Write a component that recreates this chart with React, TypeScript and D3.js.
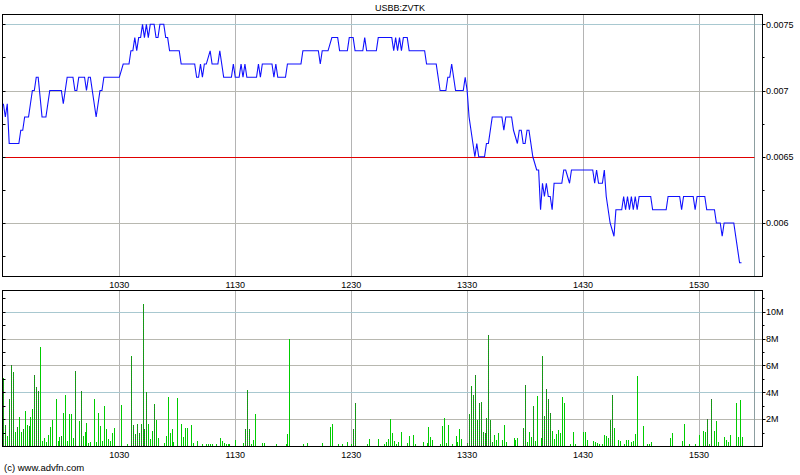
import React from 'react';
import * as d3 from 'd3';

// ---------- data ----------
const chartTitle = 'USBB:ZVTK';
const copyright = '(c) www.advfn.com';
const timeTickMinutes = [60, 120, 180, 240, 300, 360]; // minutes after 09:30
const timeTickLabels = ['1030', '1130', '1230', '1330', '1430', '1530'];
const priceTicks = [0.0075, 0.007, 0.0065, 0.006];
const priceTickLabels = ['0.0075', '0.007', '0.0065', '0.006'];
const priceMinorTicks = [0.00725, 0.00675, 0.00625, 0.00575];
const prevClose = 0.0065;
const volTicks = [2e6, 4e6, 6e6, 8e6, 10e6];
const volTickLabels = ['2M', '4M', '6M', '8M', '10M'];
const volMinorTicks = [1e6, 3e6, 5e6, 7e6, 9e6, 11e6];
const sessionEndMinute = 388.5;

// price: minute after 09:30 and trade price
const priceMinute = [
  0, 1, 2, 3, 8, 9, 10, 11, 13, 14, 15, 16, 17, 18, 20, 22, 24, 30, 31, 33, 36, 37, 38, 39, 42, 43, 44, 45, 48, 50,
  51, 52, 60, 62, 65, 66, 67, 68, 69, 70, 71, 72, 73, 74, 75, 76, 78, 79, 80, 81, 83, 84, 85, 86, 91, 92, 99, 100, 101, 102,
  103, 104, 105, 107, 108, 111, 112, 113, 114, 118, 119, 120, 122, 123, 124, 125, 126, 131, 132, 133, 134, 139, 140, 141, 142, 146, 147, 154, 155, 163,
  164, 165, 168, 170, 173, 174, 178, 179, 181, 182, 186, 187, 188, 193, 194, 201, 202, 203, 204, 205, 206, 207, 209, 210, 218, 219, 224, 225, 226, 229,
  230, 231, 232, 234, 238, 239, 240, 241, 242, 243, 244, 245, 246, 249, 250, 251, 252, 253, 258, 259, 260, 263, 264, 266, 267, 268, 269, 270, 271, 272,
  273, 274, 276, 277, 278, 279, 280, 281, 282, 283, 284, 285, 289, 290, 291, 293, 294, 305, 306, 307, 308, 310, 311, 312, 313, 314, 316, 317, 320, 321,
  322, 323, 324, 325, 326, 327, 328, 329, 335, 336, 343, 344, 350, 351, 352, 357, 358, 359, 363, 364, 368, 369, 371, 372, 373, 378, 381, 382,
];
const priceValue = [
  0.0069, 0.0068, 0.0069, 0.0066, 0.0066, 0.0067, 0.0067, 0.0068, 0.0068, 0.0069, 0.007, 0.007, 0.0071, 0.0071, 0.0068, 0.0068, 0.007, 0.007, 0.0069, 0.0071,
  0.0071, 0.007, 0.007, 0.0071, 0.0071, 0.007, 0.0071, 0.0071, 0.0068, 0.007,
  0.007, 0.0071, 0.0071, 0.0072, 0.0072, 0.0073, 0.0073, 0.0074, 0.0073, 0.0074, 0.0074, 0.0075, 0.0074, 0.0075, 0.0074, 0.0075, 0.0075, 0.0074, 0.0074, 0.0075,
  0.0075, 0.0074, 0.0074, 0.0073, 0.0073, 0.0072, 0.0072, 0.0071, 0.0071, 0.0072,
  0.0071, 0.0072, 0.0072, 0.0073, 0.0072, 0.0072, 0.0073, 0.0072, 0.0071, 0.0071, 0.0072, 0.0071, 0.0071, 0.0072, 0.0071, 0.0072, 0.0071, 0.0071, 0.0072, 0.0071,
  0.0072, 0.0072, 0.0071, 0.0072, 0.0071, 0.0071, 0.0072, 0.0072, 0.0073, 0.0073,
  0.0072, 0.0073, 0.0073, 0.0074, 0.0074, 0.0073, 0.0073, 0.0074, 0.0074, 0.0073, 0.0073, 0.0074, 0.0073, 0.0073, 0.0074, 0.0074, 0.0073, 0.0074, 0.0073, 0.0074,
  0.0073, 0.0074, 0.0074, 0.0073, 0.0073, 0.0072, 0.0072, 0.0071, 0.007, 0.007,
  0.0071, 0.0071, 0.0072, 0.007, 0.007, 0.0071, 0.007, 0.0068, 0.0067, 0.0066, 0.0065, 0.0066, 0.0065, 0.0065, 0.0066, 0.0066, 0.0067, 0.0068, 0.0068, 0.0067,
  0.0068, 0.0068, 0.0067, 0.0066, 0.0067, 0.0067, 0.0066, 0.0066, 0.0067, 0.0067,
  0.0066, 0.0065, 0.0064, 0.0064, 0.0061, 0.0063, 0.0062, 0.0063, 0.0062, 0.0062, 0.0061, 0.0063, 0.0063, 0.0064, 0.0064, 0.0063, 0.0064, 0.0064, 0.0063, 0.0064,
  0.0063, 0.0063, 0.0064, 0.0062, 0.0061, 0.006, 0.0059, 0.0061, 0.0061, 0.0062,
  0.0061, 0.0062, 0.0061, 0.0062, 0.0061, 0.0062, 0.0061, 0.0062, 0.0062, 0.0061, 0.0061, 0.0062, 0.0062, 0.0061, 0.0062, 0.0062, 0.0061, 0.0062, 0.0062, 0.0061,
  0.0061, 0.006, 0.006, 0.0059, 0.006, 0.006, 0.0057, 0.0057,
];

// volume: minute after 09:30, shares, and bar style (g = green, d = dotted/neutral)
const volMinute = [
  0, 1, 2, 3, 4, 5, 6, 7, 8, 9, 10, 11, 12, 13, 14, 15, 16, 17, 18, 19, 20, 21, 22, 23, 24, 25, 27, 28, 29, 30,
  31, 32, 33, 34, 35, 36, 37, 39, 40, 41, 42, 43, 44, 45, 47, 48, 49, 50, 51, 52, 53, 54, 55, 56, 57, 61, 64, 66, 67, 68,
  69, 70, 71, 72, 73, 74, 75, 76, 77, 78, 79, 80, 83, 84, 85, 86, 87, 88, 90, 92, 93, 94, 95, 97, 98, 100, 103, 105, 106, 107,
  108, 110, 112, 113, 114, 115, 116, 117, 120, 124, 125, 126, 127, 128, 129, 130, 134, 135, 141, 146, 147, 148, 155, 157, 165, 169, 170, 173, 175, 178,
  180, 181, 182, 188, 189, 194, 197, 198, 199, 200, 201, 202, 203, 204, 206, 209, 210, 212, 213, 217, 219, 220, 221, 222, 226, 227, 228, 229, 230, 232,
  234, 235, 236, 237, 240, 241, 242, 243, 244, 245, 246, 247, 248, 249, 250, 251, 252, 253, 254, 255, 256, 258, 259, 260, 264, 265, 266, 269, 270, 271,
  272, 273, 274, 275, 276, 278, 279, 280, 281, 282, 283, 284, 285, 286, 287, 288, 289, 290, 293, 295, 296, 300, 301, 302, 305, 306, 307, 308, 310, 311,
  312, 313, 314, 315, 316, 318, 319, 321, 322, 323, 325, 326, 327, 328, 331, 333, 334, 335, 345, 346, 351, 352, 355, 358, 360, 362, 363, 364, 365, 366,
  368, 369, 370, 373, 374, 375, 376, 379, 380, 381, 382,
];
const volShares = [
  5100000, 1560000, 740000, 3500000, 6000000, 5500000, 1070000, 1400000, 2160000, 1070000, 1270000, 2630000, 1560000, 1500000, 2160000, 2750000, 5300000, 4400000, 4100000, 7370000,
  400000, 620000, 320000, 820000, 1410000, 1940000, 3500000, 400000, 700000, 770000,
  2460000, 3800000, 400000, 2380000, 2380000, 620000, 5580000, 1860000, 4100000, 740000, 1070000, 1710000, 220000, 300000, 3500000, 320000, 2460000, 1500000, 400000, 2980000,
  1270000, 520000, 400000, 970000, 1340000, 3050000, 150000, 6700000, 1560000, 900000,
  1640000, 1000000, 1640000, 10570000, 1270000, 4000000, 1640000, 520000, 1100000, 3100000, 1940000, 620000, 220000, 740000, 3650000, 970000, 1270000, 300000, 3570000, 1640000,
  670000, 1340000, 1340000, 1560000, 220000, 370000, 170000, 120000, 120000, 120000,
  120000, 120000, 600000, 400000, 220000, 120000, 120000, 120000, 450000, 200000, 1270000, 4170000, 1270000, 170000, 450000, 2400000, 220000, 220000, 120000, 120000,
  900000, 7970000, 120000, 220000, 200000, 1410000, 1660000, 120000, 120000, 300000,
  170000, 1270000, 3200000, 120000, 520000, 520000, 120000, 300000, 520000, 2000000, 970000, 400000, 170000, 300000, 1040000, 250000, 740000, 820000, 120000, 300000,
  220000, 1410000, 670000, 450000, 150000, 1490000, 2080000, 220000, 1560000, 150000,
  740000, 300000, 1270000, 520000, 220000, 2380000, 4470000, 3800000, 5290000, 1940000, 3200000, 3280000, 1040000, 970000, 2080000, 8260000, 1940000, 300000, 820000, 450000,
  970000, 450000, 1560000, 300000, 600000, 450000, 600000, 1340000, 4540000, 300000,
  1040000, 670000, 2980000, 370000, 3720000, 600000, 6700000, 2230000, 4240000, 3500000, 2460000, 1120000, 520000, 900000, 1190000, 970000, 3650000, 3200000, 150000, 1040000,
  150000, 1040000, 1040000, 450000, 370000, 300000, 220000, 150000, 150000, 820000,
  740000, 600000, 1940000, 3800000, 1340000, 450000, 370000, 150000, 450000, 450000, 320000, 370000, 900000, 5240000, 1490000, 120000, 120000, 300000, 600000, 970000,
  370000, 1640000, 120000, 120000, 820000, 1120000, 1040000, 2000000, 120000, 3500000,
  1120000, 1860000, 300000, 670000, 450000, 300000, 820000, 3200000, 670000, 3420000, 670000,
];
const volStyle = [
  'd', 'd', 'g', 'd', 'd', 'd', 'g', 'd', 'g', 'g', 'd', 'g', 'g', 'd', 'g', 'g', 'd', 'd', 'd', 'g', 'g', 'g', 'g', 'g', 'g', 'g', 'g', 'g', 'g', 'd',
  'g', 'g', 'g', 'g', 'g', 'g', 'd', 'g', 'd', 'g', 'g', 'g', 'g', 'g', 'g', 'g', 'g', 'g', 'g', 'g', 'g', 'g', 'g', 'g', 'g', 'g', 'g', 'd', 'd', 'd',
  'd', 'd', 'd', 'd', 'd', 'd', 'g', 'g', 'g', 'd', 'g', 'g', 'g', 'g', 'g', 'g', 'g', 'g', 'g', 'g', 'g', 'g', 'g', 'g', 'g', 'g', 'g', 'g', 'g', 'g',
  'g', 'g', 'g', 'g', 'g', 'g', 'g', 'g', 'g', 'g', 'd', 'd', 'd', 'g', 'g', 'g', 'g', 'g', 'g', 'g', 'g', 'g', 'g', 'g', 'g', 'g', 'g', 'g', 'g', 'g',
  'g', 'd', 'd', 'g', 'g', 'g', 'g', 'g', 'g', 'g', 'g', 'g', 'g', 'g', 'g', 'g', 'g', 'g', 'g', 'g', 'g', 'g', 'g', 'g', 'g', 'g', 'g', 'g', 'g', 'g',
  'g', 'g', 'g', 'g', 'd', 'd', 'd', 'd', 'd', 'd', 'd', 'd', 'd', 'd', 'd', 'd', 'd', 'd', 'g', 'g', 'g', 'g', 'g', 'g', 'g', 'g', 'g', 'd', 'd', 'g',
  'g', 'g', 'd', 'g', 'g', 'g', 'd', 'd', 'd', 'd', 'd', 'g', 'g', 'g', 'g', 'g', 'g', 'g', 'g', 'g', 'g', 'g', 'g', 'g', 'g', 'g', 'g', 'g', 'g', 'g',
  'g', 'g', 'd', 'd', 'g', 'g', 'g', 'g', 'g', 'g', 'g', 'g', 'g', 'g', 'g', 'g', 'g', 'g', 'g', 'g', 'g', 'g', 'g', 'g', 'g', 'g', 'g', 'd', 'g', 'd',
  'g', 'g', 'g', 'g', 'g', 'g', 'g', 'g', 'g', 'g', 'g',
];

// ---------- layout ----------
const W = 800;
const H = 475;
const frameL = 2.5;
const frameR = 762.5;
const pTop = 14.5;
const pBot = 276.5;
const vTop = 290.5;
const vBot = 446.5;
const FONT = 'Liberation Sans, Arial, sans-serif';

const x = d3.scaleLinear().domain([0, 360]).range([3.4, 699]);
const yP = d3.scaleLinear().domain([0.006, 0.0075]).range([223, 24.3]);
const yV = d3.scaleLinear().domain([0, 10e6]).range([446, 311.7]);

const snap = (v: number) => Math.round(v) + 0.5;

export default function App() {
  const pts: [number, number][] = priceMinute.map((m, i) => [x(m), yP(priceValue[i])]);
  const linePath = d3.line()(pts) || '';
  const endX = snap(x(sessionEndMinute));

  const gridColor = (blue: boolean) => (blue ? '#a8c8d0' : '#b8b8b0');

  return (
    <svg width={W} height={H} style={{ position: 'absolute', left: 0, top: 0, background: '#fff' }} fontFamily={FONT}>
      <defs>
        <clipPath id="pclip">
          <rect x={frameL} y={pTop} width={frameR - frameL} height={pBot - pTop} />
        </clipPath>
        <pattern id="dotbar" width={1} height={2} patternUnits="userSpaceOnUse">
          <rect x={0} y={0} width={1} height={1} fill="#00c000" />
          <rect x={0} y={1} width={1} height={1} fill="#336633" />
        </pattern>
      </defs>
      <rect x={0} y={0} width={W} height={H} fill="#fff" />
      <text x={400} y={11} fontSize={9} textAnchor="middle" fill="#000">{chartTitle}</text>

      {/* ---- price panel ---- */}
      {timeTickMinutes.map((m) => (
        <line key={'pv' + m} x1={snap(x(m))} x2={snap(x(m))} y1={pTop} y2={pBot} stroke="#b4b4b4" strokeWidth={1} />
      ))}
      {priceTicks.map((p, i) =>
        p === prevClose ? null : (
          <line key={'ph' + i} x1={frameL} x2={frameR} y1={snap(yP(p))} y2={snap(yP(p))} stroke={gridColor(i === 0)} strokeWidth={1} />
        ),
      )}
      <line x1={endX} x2={endX} y1={pTop} y2={pBot} stroke="#8c9ea0" strokeWidth={1} />
      <line x1={frameL} x2={endX} y1={snap(yP(prevClose))} y2={snap(yP(prevClose))} stroke="#e00000" strokeWidth={1} />
      <path d={linePath} fill="none" stroke="#1010ff" strokeWidth={1.1} clipPath="url(#pclip)" />
      <rect x={frameL} y={pTop} width={frameR - frameL} height={pBot - pTop} fill="none" stroke="#000" strokeWidth={1} />
      {priceTicks.concat(priceMinorTicks).map((p, i) => (
        <line key={'plt' + i} x1={frameL} x2={frameL + 3} y1={snap(yP(p))} y2={snap(yP(p))} stroke="#000" />
      ))}
      {priceTicks.map((p, i) => (
        <g key={'prt' + i}>
          <line x1={frameR} x2={frameR + 3} y1={snap(yP(p))} y2={snap(yP(p))} stroke="#000" />
          <text x={frameR + 3.5} y={yP(p) + 3.3} fontSize={9} fill="#000">{priceTickLabels[i]}</text>
        </g>
      ))}
      {priceMinorTicks.map((p, i) => (
        <line key={'prm' + i} x1={frameR} x2={frameR + 2} y1={snap(yP(p))} y2={snap(yP(p))} stroke="#000" />
      ))}
      {timeTickMinutes.map((m, i) => (
        <text key={'pxl' + m} x={x(m)} y={288.3} fontSize={9} textAnchor="middle" fill="#000">{timeTickLabels[i]}</text>
      ))}

      {/* ---- volume panel ---- */}
      {timeTickMinutes.map((m) => (
        <line key={'vv' + m} x1={snap(x(m))} x2={snap(x(m))} y1={vTop} y2={vBot} stroke="#b4b4b4" strokeWidth={1} />
      ))}
      {volTicks.map((v, i) => (
        <line key={'vh' + i} x1={frameL} x2={frameR} y1={snap(yV(v))} y2={snap(yV(v))} stroke={gridColor(i === 1 || i === 4)} strokeWidth={1} />
      ))}
      <line x1={endX} x2={endX} y1={vTop} y2={vBot} stroke="#8c9ea0" strokeWidth={1} />
      <g shapeRendering="crispEdges">
        {volMinute.map((m, i) => {
          const bx = Math.round(x(m));
          const top = Math.round(yV(volShares[i]));
          const base = Math.round(yV(0));
          return (
            <rect
              key={'vb' + i}
              x={bx}
              y={top}
              width={1}
              height={Math.max(1, base - top)}
              fill={volStyle[i] === 'd' ? 'url(#dotbar)' : '#00cc00'}
            />
          );
        })}
      </g>
      <rect x={frameL} y={vTop} width={frameR - frameL} height={vBot - vTop} fill="none" stroke="#000" strokeWidth={1} />
      {volTicks.map((v, i) => (
        <g key={'vrt' + i}>
          <line x1={frameR} x2={frameR + 3} y1={snap(yV(v))} y2={snap(yV(v))} stroke="#000" />
          <text x={frameR + 3.5} y={yV(v) + 3.3} fontSize={9} fill="#000">{volTickLabels[i]}</text>
        </g>
      ))}
      {volMinorTicks.map((v, i) => (
        <line key={'vrm' + i} x1={frameR} x2={frameR + 2} y1={snap(yV(v))} y2={snap(yV(v))} stroke="#000" />
      ))}
      {volTicks.concat(volMinorTicks).map((v, i) => (
        <line key={'vlt' + i} x1={frameL} x2={frameL + 3} y1={snap(yV(v))} y2={snap(yV(v))} stroke="#000" />
      ))}
      {timeTickMinutes.map((m, i) => (
        <text key={'vxl' + m} x={x(m)} y={458} fontSize={9} textAnchor="middle" fill="#000">{timeTickLabels[i]}</text>
      ))}
      <text x={4} y={471} fontSize={9.5} fill="#000">{copyright}</text>
    </svg>
  );
}
